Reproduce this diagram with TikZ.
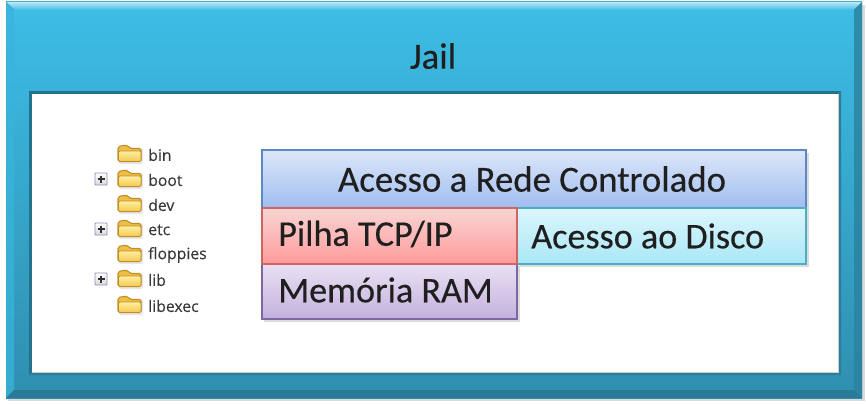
\documentclass[tikz,border=0pt]{standalone}
\usepackage{fontspec}
\setmainfont[FakeBold=0.35]{Carlito}
\newfontfamily\treefont[FakeBold=0.15]{Open Sans}
\usetikzlibrary{shadows,calc}
\definecolor{bluetop}{HTML}{3DBDE6}
\definecolor{bluebot}{HTML}{2F8FB0}
\definecolor{redge}{HTML}{5C88C4}\definecolor{rtop}{HTML}{DDE7F9}\definecolor{rbot}{HTML}{A0BDF0}
\definecolor{pedge}{HTML}{CF6562}\definecolor{ptop}{HTML}{F7D5D4}\definecolor{pbot}{HTML}{FF9B9A}
\definecolor{dedge}{HTML}{4BAEC6}\definecolor{dtop}{HTML}{DCF6FC}\definecolor{dbot}{HTML}{A9E7F6}
\definecolor{medge}{HTML}{8065A4}\definecolor{mtop}{HTML}{E9E0F3}\definecolor{mbot}{HTML}{C3B1DD}
\definecolor{fedge}{HTML}{C08E28}\definecolor{fback}{HTML}{EDBE48}\definecolor{ftop}{HTML}{FFEFA0}\definecolor{fbot}{HTML}{F4C850}
\tikzset{
  every picture/.style={x=0.75pt,y=-0.75pt},
  bigtext/.style={font=\fontsize{27.6pt}{30pt}\selectfont,text=black!88,inner sep=0pt},
  sidetext/.style={font=\fontsize{27.1pt}{30pt}\selectfont,text=black!88,inner sep=0pt,anchor=west},
  treetext/.style={font=\treefont\fontsize{11.8pt}{13pt}\selectfont,text=black!78,anchor=west,inner sep=0pt},
  boxshadow/.style={fill=black!35,draw=none,opacity=.4},
  flatbox/.style={line width=.8pt,inner sep=0pt},
}
\newcommand{\foldericon}[1]{%
  \begin{scope}[shift={(#1)}]
    \fill[rounded corners=1.2pt,fill=black!30,opacity=.3] (-11,-6) rectangle (13,10);
    \draw[draw=fedge,line width=.8pt,rounded corners=1.2pt,fill=fback]
      (-12,7.5) -- (-12,-7) -- (-8,-8.5) -- (-2,-8.5) -- (0,-5.5) -- (11,-5.5) -- (11,7.5) -- cycle;
    \draw[draw=fedge,line width=.6pt,rounded corners=1pt,top color=ftop,bottom color=fbot]
      (-11.5,7.5) -- (-11.5,-3) -- (11,-3) -- (11,7.5) -- cycle;
  \end{scope}}
\newcommand{\plusbox}[1]{%
  \begin{scope}[shift={(#1)}]
    \draw[draw=blue!25!gray!70,line width=.7pt,top color=white,bottom color=gray!30,rounded corners=.6pt] (-6,-6) rectangle (6,6);
    \draw[black!80,line width=.9pt] (-3.5,0) -- (3.5,0) (0,-3.5) -- (0,3.5);
  \end{scope}}
\begin{document}
\begin{tikzpicture}
\useasboundingbox (0,0) rectangle (866,403);
\fill[white] (0,0) rectangle (866,403);
% outer frame
\fill[black!35,opacity=.4] (8,5) rectangle (865,401);
\fill[top color=bluetop,bottom color=bluebot] (6,2) rectangle (862,398);
\fill[top color=bluetop!35!white,bottom color=bluetop] (6,2) -- (862,2) -- (854,10) -- (14,10) -- cycle;
\fill[bluetop!80!bluebot,opacity=.75] (6,2) -- (14,10) -- (14,390) -- (6,398) -- cycle;
\fill[bluebot!85!black] (6,398) -- (14,390) -- (854,390) -- (862,398) -- cycle;
\fill[bluebot!90!black,opacity=.8] (862,2) -- (854,10) -- (854,390) -- (862,398) -- cycle;
% inner panel
\fill[bluebot!80!black] (29,91) -- (841,91) -- (838,94) -- (32,94) -- (32,372) -- (29,375) -- cycle;
\fill[bluebot!88!black] (841,91) -- (841,375) -- (29,375) -- (32,372) -- (838,372) -- (838,94) -- cycle;
\fill[white] (32,94) rectangle (838,372);
\draw[black!20,line width=.6pt] (838,94) -- (838,372) -- (32,372);
\node[bigtext] (jail) at (433,56) {Jail};
% shadows
\fill[boxshadow] (264,153) rectangle (809,211);
\fill[boxshadow] (264,266) rectangle (520,322);
\fill[boxshadow] (520,211) rectangle (809,267);
% boxes
\node[flatbox,draw=redge,top color=rtop,bottom color=rbot,minimum width=408pt,minimum height=43.5pt] (rede) at (534,179) {};
\node[flatbox,draw=dedge,top color=dtop,bottom color=dbot,minimum width=216.75pt,minimum height=42pt] (disco) at (661.5,236) {};
\node[flatbox,draw=medge,top color=mtop,bottom color=mbot,minimum width=191.25pt,minimum height=41.25pt] (ram) at (389.5,291.5) {};
\node[flatbox,draw=pedge,top color=ptop,bottom color=pbot,minimum width=191.25pt,minimum height=42pt] (pilha) at (389.5,236) {};
\node[bigtext] (t1) at (532,179) {Acesso a Rede Controlado};
\node[sidetext] (t2) at (278,234) {Pilha TCP/IP};
\node[sidetext] (t3) at (531,236) {Acesso ao Disco};
\node[sidetext] (t4) at (278,290) {Memória RAM};
% tree
\foldericon{130,154}\foldericon{130,179}\foldericon{130,204}\foldericon{130,229}\foldericon{130,254}\foldericon{130,279}\foldericon{130,305}
\plusbox{101,179}\plusbox{101,229}\plusbox{101,279}
\node[treetext] (f1) at (148,155) {bin};
\node[treetext] (f2) at (148,180) {boot};
\node[treetext] (f3) at (148,205) {dev};
\node[treetext] (f4) at (148,230) {etc};
\node[treetext] (f5) at (148,255) {floppies};
\node[treetext] (f6) at (148,280) {lib};
\node[treetext] (f7) at (148,306) {libexec};
\end{tikzpicture}
\end{document}
